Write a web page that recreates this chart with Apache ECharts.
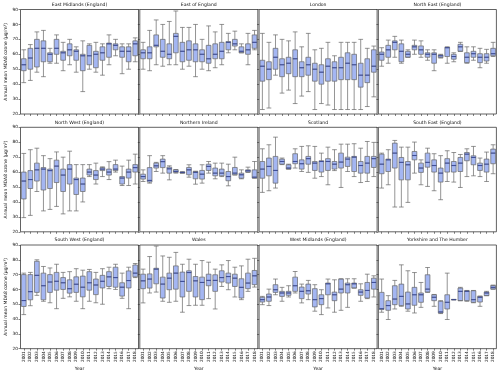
<!DOCTYPE html>
<html><head><meta charset="utf-8">
<script src="https://cdn.jsdelivr.net/npm/echarts@6/dist/echarts.min.js"></script>
<style>html,body{margin:0;padding:0;background:#fff}#c{width:500px;height:372px}</style>
</head><body><div id="c"></div>
<script>
const years = ['2001','2002','2003','2004','2005','2006','2007','2008','2009','2010','2011','2012','2013','2014','2015','2016','2017','2018'];
const yTickMin = 20, yTickMax = 90, yTickStep = 10;
const regionNames = ['East Midlands (England)','East of England','London','North East (England)',
  'North West (England)','Northern Ireland','Scotland','South East (England)',
  'South West (England)','Wales','West Midlands (England)','Yorkshire and The Humber'];
// each row: [low whisker, Q1, median, Q3, high whisker]
const eastMidlands = [[41,49,53,57,63],[42.5,50,57.5,64,66.5],[48,51.5,64,70,75],[45,55,64,69,76],[54,55,60,61,64],[54,60,64,70,73],[49,56,61,62,68],[53,59,63,67,70],[48,56,62,63,65],[35,49,59,60,69],[50,53,59,66,67],[48,51,60,62,68],[46,56,61,65,67],[53,58,67,67.5,73],[59,63,66,67,70],[47,58,62,65,67],[50,55,62,65,67],[55,59,67,69,71]];
const eastOfEngland = [[50,57,61,63,68],[49,57,61,65,76],[53,65,66,73,83],[52,58,62,70,80],[53,57,60,67,82],[53,61,72,74,89],[50,55,62,68,78],[52,56,63,69,78],[45,55,63,67,80],[50,55,60,63,70],[49,54,57,66,79],[51,57,60,67,75],[53,57,62,68,80],[61,63,68,68.5,74],[63,65.5,67,70,75.5],[61,61,62,65,67],[53,60,63,67,74],[63,64,68,73,76]];
const london = [[23,42,52,56,74],[24,43,50,55,68],[46,50,58,64,73],[34,45,53,57,70],[36,47,54,58,69],[27,45,57,63,75],[32,45,51,55,65],[35,46,53,58,74],[23,42,50,54,63],[27,40,48,53,64],[26,42,52,57,68],[23,42,51,55,59],[23,43,51,58,68],[23,43,54,61,68],[23,43,53,60,68],[23,38,46,54,70],[25,41,46,57,64],[31.5,48,52,63,65.5]];
const northEast = [[52,56,60,61.5,64.4],[54,58,63,66,69.5],[58,63,68,69,72],[54,55,62,67,69.5],[58,58,60,62,63],[60,63,65,66,69.5],[58,60,63,65.6,69],[56,58,60,61,63],[49,54,60,61,63],[57.5,57.8,59,59.6,60],[54,58.5,64.4,64.6,65],[55,56.7,58.5,60,61],[62,62,65,66.7,68],[54,54.4,58,61,65],[56,58,60.4,62,65],[51,54.4,58,60.4,64],[54,55.5,58,60.4,63.3],[58.5,59,60.4,64,68]];
const northWest = [[29.5,42,54,60,72.5],[31,49,55,61,75],[47,54,61.5,66,76],[34,48,62,63,71],[35,49,61,62,69],[37,53,64,68,73.5],[32,47,58,62,70],[34,52,62,65,74],[34,45,55,56,65],[40,47,52,56,65],[57,58,60,62,65],[52,55,58,61,66],[57,61,62,63,63.5],[55,58,60,62,67],[60,61,62,65,68],[51,52,56,57,64],[51,56,60,62,68],[52,60,63,65,72]];
const northernIreland = [[53.7,55.3,57,58.6,61.5],[52.6,53.3,54.4,63,71],[60.4,62.7,64.2,66,66.5],[59.3,63,67,68.7,71],[54.8,59.3,62.2,63.3,64.2],[59.3,59.8,60.4,61.5,61.7],[59.3,59.3,59.8,60,60.2],[56.6,58.2,61.5,63.1,64.9],[51.9,55.5,59.8,60.4,60.6],[52.6,55.3,58.6,61.1,64.9],[59.3,61.1,63.8,65.3,67.1],[55.5,57.5,59.3,62.7,66],[57,57.5,59.3,62,66],[50.8,54.2,57,60.4,65.3],[58,58.2,59.3,63.1,70],[55.5,55.9,58.2,59.3,61.5],[59.8,60,60.9,61.5,63.3],[55.9,56,56.6,61.5,67.1]];
const scotland = [[46.4,55.9,62,67.1,75.6],[47.5,57.5,63.8,69.4,78.3],[49.3,52.6,61.1,70.5,83.4],[65,65.3,67.1,68.7,69.4],[62,62,62.7,64.9,65.3],[62.7,65.6,67.1,72.3,75.6],[60.4,62,65.6,68.2,77.2],[59.8,65.3,69,70.5,77.6],[55.9,61.1,66,67.1,77.2],[57,60,67.1,67.6,72.7],[51.5,61.1,67.1,69,76.7],[61,62,65.3,67.1,75],[49.7,62.7,66.7,72.7,78.7],[60.4,63.8,68.7,70,78.7],[57,60.4,70,70.5,79],[53,59.3,64.4,67.1,76],[53.7,59.3,66,70.5,80.5],[57,63.1,69,70.5,79.9]];
const southEast = [[49.3,58.9,65.3,72,72.7],[51.5,60.4,68.2,68.7,75],[36.6,62.7,72.7,79.4,81.2],[36.6,54.8,66.5,69.8,76.7],[39.7,54.8,64.9,67.1,76.7],[59.3,68.2,71.1,73.8,80.1],[51.5,59.8,62.7,66,68.2],[50.4,63.3,66.5,72.7,76],[47.5,60,64.4,68.2,72.3],[41.5,53.3,59.3,62.7,71],[53.7,60,66,69,74.3],[53.3,60,64.4,67.1,73.1],[49.7,60.4,66,69.8,71.8],[57,67.6,72,73.1,75.6],[57.5,64.9,69.8,70.9,77.2],[57,61.1,64.4,66,69.4],[53.7,60,65.3,68.7,73.4],[58.9,65.6,72.7,75.4,78.3]];
const southWest = [[43,48.5,52.5,70,71],[49,53,58.5,70,71.5],[56,58,69.5,79,80],[52,53,62.5,71,75.5],[51,58,65,70,74.5],[47,59.5,65.5,71.5,77],[54,60,64.5,68,71.5],[55,57.5,60.5,66.5,72],[52,58,63.5,68.5,74],[47,55,61.5,69,73],[52,59.5,64.5,72,73.5],[51,56.5,63,67,71.5],[50,61,65.5,69.5,74],[60.5,62,68.5,72,75],[60,61.5,68,75,77],[54,55.5,61.5,64.5,71],[47,61,66,72.5,75],[68,68.5,71,76.5,77.5]];
const wales = [[50.9,60.5,65.8,70.3,73.7],[57.6,60.9,67,70.5,82.2],[58.2,63.8,73.7,74.3,89.3],[52,54.2,63.6,68.3,82.6],[51.3,59.8,67.6,71,81.7],[52,60.2,71,75.9,85],[44.6,54.9,65.4,71.7,77],[49.1,58.7,71.4,72.6,80.4],[49.3,54.9,65.8,68.7,77],[49.3,53.1,64.7,68.3,79.5],[53.8,62.5,66.1,70.3,78.4],[46.8,58.7,66.1,69.9,73.7],[62,65,68,72.6,76.6],[59.8,64.3,68.7,71,79.5],[54.9,62,67.6,70.3,75],[53.1,54.2,61.4,67.2,75.9],[58.7,60.5,64.3,71,80.4],[61.6,63.2,69.2,72.8,81]];
const westMidlands = [[49.7,51.5,53.1,54.7,55.3],[49.1,52,54.9,56.9,60.2],[56.4,58,59.8,63.2,67],[52,55.3,57.6,58.7,61.4],[54.9,56,57.6,58.7,62.5],[57.6,58.7,62.5,68.3,72.1],[50.9,53.8,58.7,61.6,63.6],[53.1,56.9,59.1,63.6,66.1],[45.3,48.2,53.1,60.5,63.2],[43,49.7,53.8,56.4,59.8],[47.5,56.4,63.8,64.3,67],[44.6,52.4,56.4,58.2,66.5],[45.9,57.6,60.2,67,67.2],[47.9,57.6,63.2,64.3,67.2],[60.9,60.9,63.8,64.3,67.2],[52,56,58.2,59.8,63.8],[53.8,54.2,59.3,64.7,70.3],[54.9,60.2,64.7,67.6,69.2]];
const yorkshire = [[44.6,46.4,47,58,67],[39.7,45.9,49.1,52.4,55.8],[46.8,49.7,53.5,62.5,66.1],[48.6,49.1,55.3,63.6,76.6],[45.3,46.8,50.2,58.2,72.6],[44.1,49.3,56.4,61.4,71.4],[47.9,51.3,56.4,57.6,64.7],[58,58.2,60.2,69.9,74.8],[48.6,52.4,54.7,56.4,56.6],[43.7,44.1,44.8,52,52.4],[39.7,46.8,51.3,56.4,71],[53,53,53.1,53.2,53.3],[52.4,52.4,58.7,60.9,61.4],[52,52.4,58.7,59.1,59.3],[51,51.3,53.1,59.1,59.3],[48.6,51.5,54.7,55.3,55.5],[55.8,55.8,57.6,58.2,58.7],[60.2,60.2,61.4,62.7,62.9]];

const regionData = [eastMidlands, eastOfEngland, london, northEast, northWest, northernIreland,
  scotland, southEast, southWest, wales, westMidlands, yorkshire];

const FONT = 'DejaVu Sans';
const lefts = [20.5, 139.8, 259.1, 378.4];
const tops = [9.5, 127.3, 245];
const W = 118, H = 104.5;

const grids = [], xAxes = [], yAxes = [], series = [], titles = [];
regionData.forEach((arr, i) => {
  const col = i % 4, row = Math.floor(i / 4);
  grids.push({left: lefts[col], top: tops[row], width: W, height: H, show: true,
    borderColor: '#3a3a3a', borderWidth: 0.8, backgroundColor: 'rgba(0,0,0,0)'});
  xAxes.push({type: 'category', gridIndex: i, data: years, boundaryGap: true,
    axisLine: {show: false},
    axisTick: {show: true, alignWithLabel: true, interval: 0, length: 2, lineStyle: {color: '#333', width: 0.6}},
    axisLabel: {show: row === 2, rotate: 90, interval: 0, fontSize: 4.3, margin: 2.5, color: '#111', fontFamily: FONT},
    name: row === 2 ? 'Year' : '', nameLocation: 'middle', nameGap: 15,
    nameTextStyle: {fontSize: 4.5, color: '#111', fontFamily: FONT},
    splitLine: {show: false}});
  yAxes.push({type: 'value', gridIndex: i, min: yTickMin, max: yTickMax, interval: yTickStep,
    axisLine: {show: false},
    axisTick: {show: true, length: 2, lineStyle: {color: '#333', width: 0.6}},
    splitLine: {show: false},
    axisLabel: {show: col === 0, fontSize: 4.3, margin: 2.5, color: '#111', fontFamily: FONT},
    name: col === 0 ? 'Annual mean MDA8 ozone (µg/m³)' : '', nameLocation: 'middle', nameRotate: 90, nameGap: 11,
    nameTextStyle: {fontSize: 4.5, color: '#111', fontFamily: FONT}});
  series.push({type: 'boxplot', xAxisIndex: i, yAxisIndex: i, data: arr,
    boxWidth: ['72%', '72%'], silent: true,
    itemStyle: {color: '#a4b6f2', borderColor: '#666', borderWidth: 0.7},
    emphasis: {disabled: true}});
  series.push({type: 'scatter', xAxisIndex: i, yAxisIndex: i, silent: true, z: 5,
    data: arr.map((d, k) => [k, d[2]]), symbol: 'rect', symbolSize: [4.6, 1.1],
    itemStyle: {color: '#33449a'}});
  titles.push({text: regionNames[i], left: lefts[col] + W / 2, top: tops[row] - 7.5, textAlign: 'center', padding: 0,
    textStyle: {fontSize: 4.6, fontWeight: 'normal', color: '#111', fontFamily: FONT}});
});

const chart = echarts.init(document.getElementById('c'));
chart.setOption({animation: false, title: titles, grid: grids, xAxis: xAxes, yAxis: yAxes, series: series,
  textStyle: {fontFamily: FONT}});
</script>
</body></html>
